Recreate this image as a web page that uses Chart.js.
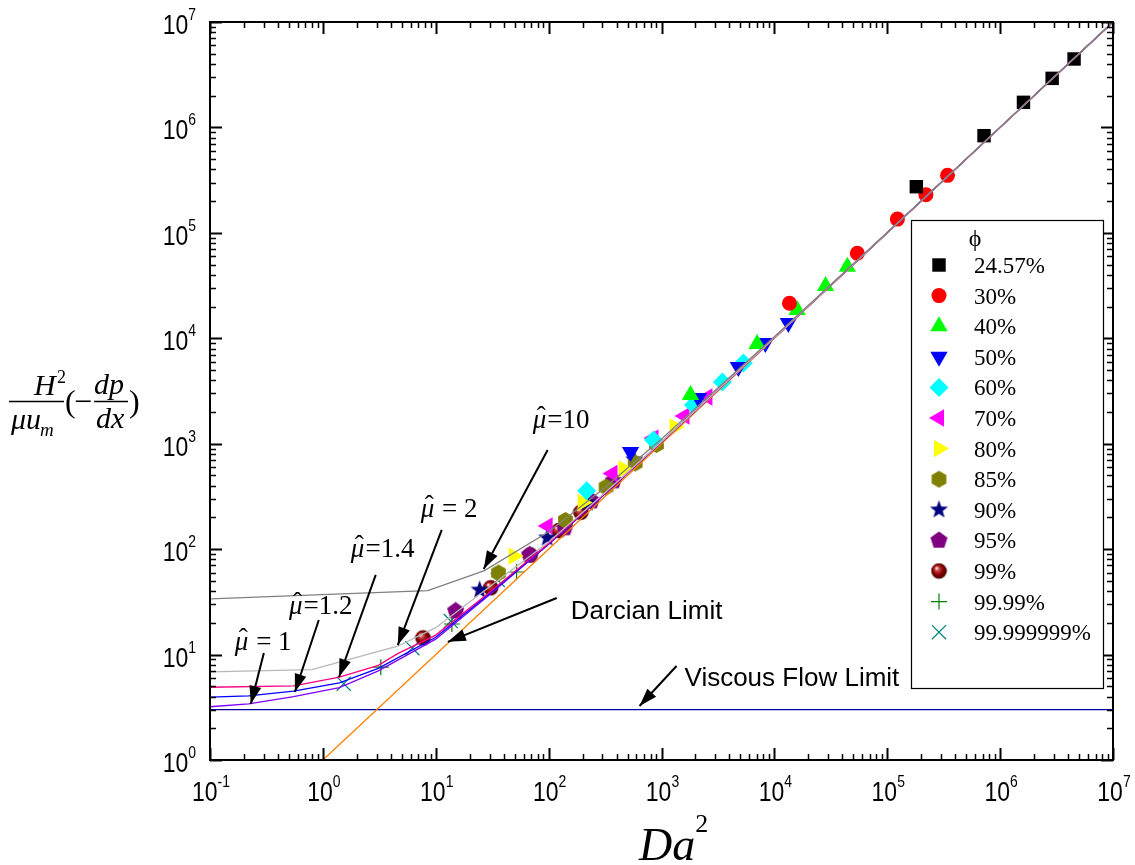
<!DOCTYPE html>
<html>
<head>
<meta charset="utf-8">
<script src="https://cdn.jsdelivr.net/npm/chart.js@4.4.1/dist/chart.umd.min.js"></script>
<style>
  html, body { margin: 0; padding: 0; background: #fff; }
  canvas { display: block; }
</style>
</head>
<body>
<canvas id="grafico" width="1135" height="865"></canvas>
<script>
// eixos (log-log)
const xTicks = [0.1, 1, 10, 100, 1e3, 1e4, 1e5, 1e6, 1e7]
const xExpoentes = ['-1', '0', '1', '2', '3', '4', '5', '6', '7']
const yTicks = [1, 10, 100, 1e3, 1e4, 1e5, 1e6, 1e7]
const yExpoentes = ['0', '1', '2', '3', '4', '5', '6', '7']

// curvas teoricas (mu chapeu)
const mu1X = [0.1, 0.22, 0.55, 1.4, 3.1, 10, 30, 100, 300, 1000, 1e4, 1e5, 1e6, 1e7]
const mu1Y = [3.2, 3.4, 4.0, 4.85, 7.0, 14, 37, 111, 318, 1033, 10100, 100300, 1001000, 1e7]
const mu12X = [0.1, 0.22, 0.55, 1.4, 3.1, 10, 30, 100, 300, 1000, 1e4, 1e5, 1e6, 1e7]
const mu12Y = [3.95, 4.05, 4.5, 5.4, 7.4, 14.6, 38, 112, 320, 1035, 10110, 100350, 1001100, 1e7]
const mu14X = [0.1, 0.55, 1.4, 3.1, 4.6, 10, 30, 100, 300, 1000, 1e4, 1e5, 1e6, 1e7]
const mu14Y = [4.9, 5.05, 6.1, 7.9, 10.2, 15.3, 39, 113, 322, 1038, 10120, 100370, 1001200, 1e7]
const mu2X = [0.1, 0.8, 4.6, 10, 30, 100, 300, 1000, 1e4, 1e5, 1e6, 1e7]
const mu2Y = [6.85, 7.2, 12, 18, 44, 117, 327, 1046, 10140, 100450, 1001400, 1e7]
const mu10X = [0.1, 8.5, 27, 100, 300, 1000, 1e4, 1e5, 1e6, 1e7]
const mu10Y = [33.7, 40.5, 62.5, 146, 367, 1110, 10320, 101000, 1003200, 1e7]
const darcyX = [1, 1e7]
const darcyY = [1, 1e7]
const viscosoX = [0.1, 1e7]
const viscosoY = [3, 3]

// pontos medidos, por porosidade
const phiLabels = ['24.57%', '30%', '40%', '50%', '60%', '70%', '80%', '85%', '90%', '95%', '99%', '99.99%', '99.999999%']
const phi2457X = [1.81e5, 7.2e5, 1.61e6, 2.89e6, 4.52e6]
const phi2457Y = [2.74e5, 8.35e5, 1.73e6, 2.92e6, 4.46e6]
const phi30X = [1.36e4, 5.43e4, 1.23e5, 2.2e5, 3.42e5]
const phi30Y = [2.15e4, 6.4e4, 1.35e5, 2.3e5, 3.51e5]
const phi40X = [1807, 7030, 1.59e4, 2.84e4, 4.43e4]
const phi40Y = [2897, 8830, 1.85e4, 3.13e4, 4.78e4]
const phi50X = [532, 2125, 4800, 8320, 1.33e4]
const phi50Y = [834, 2715, 5340, 9020, 1.40e4]
const phi60X = [217, 849, 1919, 3467, 5320]
const phi60Y = [358, 1084, 2330, 3850, 5830]
const phi70X = [98, 368, 849, 1599, 2553]
const phi70Y = [166, 522, 1132, 1832, 2773]
const phi80X = [49, 200, 461, 1303]
const phi80Y = [86, 277, 576, 1440]
const phi85X = [36, 141, 323, 585, 903]
const phi85Y = [59.4, 187, 388, 656, 982]
const phi90X = [24.5, 97, 220, 573]
const phi90Y = [41, 128, 274, 705]
const phi95X = [15, 68, 139, 240, 376]
const phi95Y = [25.9, 88, 159, 286, 443]
const phi99X = [7.7, 30.7, 68.6, 123, 193]
const phi99Y = [14.4, 43, 88, 150, 224]
const phi9999X = [3.26, 13.9, 52]
const phi9999Y = [7.6, 19.5, 60.7]
const phi99999999X = [1.53, 6.2, 13.6, 35.4]
const phi99999999Y = [5.3, 11.5, 20.8, 51]

const seriesX = [phi2457X, phi30X, phi40X, phi50X, phi60X, phi70X, phi80X, phi85X, phi90X, phi95X, phi99X, phi9999X, phi99999999X]
const seriesY = [phi2457Y, phi30Y, phi40Y, phi50Y, phi60Y, phi70Y, phi80Y, phi85Y, phi90Y, phi95Y, phi99Y, phi9999Y, phi99999999Y]

function pontos(xs, ys) {
  return xs.map((x, i) => ({ x: x, y: ys[i] }))
}

// marcadores desenhados a mao
function poligono(cor, n, r, r2, tam) {
  const c = document.createElement('canvas')
  c.width = tam; c.height = tam
  const g = c.getContext('2d')
  g.fillStyle = cor
  g.beginPath()
  const passos = r2 ? n * 2 : n
  for (let i = 0; i < passos; i++) {
    const raio = (r2 && i % 2) ? r2 : r
    const a = -Math.PI / 2 + i * 2 * Math.PI / passos
    const px = tam / 2 + raio * Math.cos(a), py = tam / 2 + raio * Math.sin(a)
    if (i === 0) g.moveTo(px, py); else g.lineTo(px, py)
  }
  g.closePath()
  g.fill()
  return c
}

function esfera() {
  const c = document.createElement('canvas')
  c.width = 17; c.height = 17
  const g = c.getContext('2d')
  const grad = g.createRadialGradient(6, 5.5, 0.5, 8.5, 8.5, 8)
  grad.addColorStop(0, '#ffe8e8')
  grad.addColorStop(0.25, '#c04040')
  grad.addColorStop(0.6, '#8c0000')
  grad.addColorStop(1, '#3a0000')
  g.fillStyle = grad
  g.beginPath()
  g.arc(8.5, 8.5, 7.8, 0, Math.PI * 2)
  g.fill()
  return c
}

const hexagono = poligono('#808000', 6, 8.5, 0, 19)
const estrela = poligono('#000080', 5, 9.5, 3.9, 21)
const pentagono = poligono('#800080', 5, 9, 0, 19)
const bola = esfera()

const estilos = [
  { pointStyle: 'rect', radius: 9.5, rotation: 0, cor: '#000000' },
  { pointStyle: 'circle', radius: 7.5, rotation: 0, cor: '#ff0000' },
  { pointStyle: 'triangle', radius: 10, rotation: 0, cor: '#00ff00' },
  { pointStyle: 'triangle', radius: 10, rotation: 180, cor: '#0000ff' },
  { pointStyle: 'rectRot', radius: 9.5, rotation: 0, cor: '#00ffff' },
  { pointStyle: 'triangle', radius: 10, rotation: -90, cor: '#ff00ff' },
  { pointStyle: 'triangle', radius: 10, rotation: 90, cor: '#ffff00' },
  { pointStyle: hexagono, radius: 9, rotation: 0, cor: '#808000' },
  { pointStyle: estrela, radius: 9, rotation: 0, cor: '#000080' },
  { pointStyle: pentagono, radius: 9, rotation: 0, cor: '#800080' },
  { pointStyle: bola, radius: 8, rotation: 0, cor: '#800000' },
  { pointStyle: 'cross', radius: 8, rotation: 0, cor: '#008000', linha: 1.2 },
  { pointStyle: 'crossRot', radius: 10, rotation: 0, cor: '#008080', linha: 1.2 }
]

const curvas = [
  { xs: mu10X, ys: mu10Y, cor: '#808080' },
  { xs: mu2X, ys: mu2Y, cor: '#b8b8b8' },
  { xs: mu14X, ys: mu14Y, cor: '#ff0080' },
  { xs: mu12X, ys: mu12Y, cor: '#0000ff' },
  { xs: mu1X, ys: mu1Y, cor: '#8000ff' },
  { xs: darcyX, ys: darcyY, cor: '#ff8000' },
  { xs: viscosoX, ys: viscosoY, cor: '#0000a0' }
]

const datasets = []
curvas.forEach(c => {
  datasets.push({
    data: pontos(c.xs, c.ys),
    showLine: true,
    borderColor: c.cor,
    borderWidth: 1.3,
    pointRadius: 0,
    tension: 0,
    order: 0
  })
})
estilos.forEach((e, i) => {
  datasets.push({
    label: phiLabels[i],
    data: pontos(seriesX[i], seriesY[i]),
    pointStyle: e.pointStyle,
    pointRadius: e.radius,
    pointRotation: e.rotation,
    backgroundColor: e.cor,
    borderColor: e.cor,
    pointBorderWidth: e.linha || 0,
    order: 1
  })
})

// anotacoes (coordenadas nos dados)
const notasMu = [
  { resto: ' = 1', x: 0.166, y: 11.0 },
  { resto: '=1.2', x: 0.50, y: 24.3 },
  { resto: '=1.4', x: 1.77, y: 84.2 },
  { resto: ' = 2', x: 7.37, y: 202 },
  { resto: '=10', x: 72.2, y: 1409 }
]
const setas = [
  [0.30, 10.35, 0.23, 3.40],
  [0.92, 21.3, 0.565, 4.42],
  [2.94, 56.9, 1.39, 6.13],
  [11.3, 152, 4.61, 12.3],
  [98, 871, 26.6, 64.8],
  [118, 34.4, 12.8, 13.2],
  [1358, 7.8, 639, 3.25]
]
const notasTexto = [
  { texto: 'Darcian Limit', x: 157, y: 21.7 },
  { texto: 'Viscous Flow Limit', x: 1599, y: 5.03 }
]

function seta(ctx, x1, y1, x2, y2) {
  ctx.beginPath()
  ctx.moveTo(x1, y1)
  ctx.lineTo(x2, y2)
  ctx.stroke()
  const ang = Math.atan2(y2 - y1, x2 - x1), len = 18, w = 6
  ctx.beginPath()
  ctx.moveTo(x2, y2)
  ctx.lineTo(x2 - len * Math.cos(ang) + w * Math.sin(ang), y2 - len * Math.sin(ang) - w * Math.cos(ang))
  ctx.lineTo(x2 - len * Math.cos(ang) - w * Math.sin(ang), y2 - len * Math.sin(ang) + w * Math.cos(ang))
  ctx.closePath()
  ctx.fill()
}

// texto estreito, como o Arial comprimido do original
function textoEstreito(ctx, txt, x, y, escala) {
  ctx.save()
  ctx.translate(x, y)
  ctx.scale(escala, 1)
  ctx.fillText(txt, 0, 0)
  ctx.restore()
}

const moldura = {
  id: 'moldura',
  afterDraw(chart) {
    const ctx = chart.ctx
    const a = chart.chartArea
    const sx = chart.scales.x, sy = chart.scales.y
    ctx.save()
    ctx.fillStyle = '#000'
    ctx.strokeStyle = '#000'

    // ticks para dentro nos quatro lados
    xTicks.forEach(v => {
      for (let m = 1; m <= 9; m++) {
        const val = v * m
        if (val > sx.max * 1.0001) break
        const px = Math.round(sx.getPixelForValue(val)) + 0.5
        const t = m === 1 ? 12 : 6
        ctx.lineWidth = m === 1 ? 2 : 1.5
        ctx.beginPath()
        ctx.moveTo(px, a.bottom); ctx.lineTo(px, a.bottom - t)
        ctx.moveTo(px, a.top); ctx.lineTo(px, a.top + t)
        ctx.stroke()
      }
    })
    yTicks.forEach(v => {
      for (let m = 1; m <= 9; m++) {
        const val = v * m
        if (val > sy.max * 1.0001) break
        const py = Math.round(sy.getPixelForValue(val)) + 0.5
        const t = m === 1 ? 12 : 6
        ctx.lineWidth = m === 1 ? 2 : 1.5
        ctx.beginPath()
        ctx.moveTo(a.left, py); ctx.lineTo(a.left + t, py)
        ctx.moveTo(a.right, py); ctx.lineTo(a.right - t, py)
        ctx.stroke()
      }
    })
    ctx.lineWidth = 2
    ctx.strokeRect(a.left, a.top, a.right - a.left, a.bottom - a.top)

    // rotulos 10^n
    const k = 0.82
    const fBase = '28px "Liberation Sans", Arial, sans-serif'
    const fExp = '17px "Liberation Sans", Arial, sans-serif'
    ctx.textBaseline = 'alphabetic'
    ctx.textAlign = 'left'
    xTicks.forEach((v, i) => {
      const px = sx.getPixelForValue(v)
      ctx.font = fBase
      const wb = ctx.measureText('10').width * k
      ctx.font = fExp
      const we = ctx.measureText(xExpoentes[i]).width * k
      const x0 = px - (wb + we) / 2 + 1
      ctx.font = fBase
      textoEstreito(ctx, '10', x0, a.bottom + 41, k)
      ctx.font = fExp
      textoEstreito(ctx, xExpoentes[i], x0 + wb, a.bottom + 27, k)
    })
    yTicks.forEach((v, i) => {
      const py = sy.getPixelForValue(v)
      ctx.font = fBase
      const wb = ctx.measureText('10').width * k
      ctx.font = fExp
      const we = ctx.measureText(yExpoentes[i]).width * k
      const x0 = a.left - 14 - we - wb
      ctx.font = fBase
      textoEstreito(ctx, '10', x0, py + 12, k)
      ctx.font = fExp
      textoEstreito(ctx, yExpoentes[i], x0 + wb, py - 2, k)
    })

    // titulo do eixo x: Da^2
    ctx.font = 'italic 46px "Liberation Serif", "Times New Roman", serif'
    ctx.fillText('Da', 639, 860)
    const wDa = ctx.measureText('Da').width
    ctx.font = '26px "Liberation Serif", "Times New Roman", serif'
    ctx.fillText('2', 639 + wDa, 832)

    // titulo do eixo y: H^2/(mu u_m) (-dp/dx)
    const serifI = sz => 'italic ' + sz + 'px "Liberation Serif", "Times New Roman", serif'
    const serif = sz => sz + 'px "Liberation Serif", "Times New Roman", serif'
    ctx.font = serifI(30)
    ctx.fillText('H', 34, 395)
    ctx.font = serif(18)
    ctx.fillText('2', 57, 383)
    ctx.font = serifI(30)
    ctx.fillText('μu', 11, 429)
    const wmu = ctx.measureText('μu').width
    ctx.font = serifI(19)
    ctx.fillText('m', 11 + wmu - 1, 436)
    ctx.lineWidth = 1.3
    ctx.beginPath()
    ctx.moveTo(9, 401.5); ctx.lineTo(64, 401.5)
    ctx.moveTo(94, 401.5); ctx.lineTo(128, 401.5)
    ctx.stroke()
    ctx.font = serif(32)
    ctx.fillText('(', 65, 412)
    ctx.fillText('−', 74, 412)
    ctx.fillText(')', 129, 412)
    ctx.font = serifI(30)
    ctx.fillText('dp', 94, 394)
    ctx.fillText('dx', 96, 428)

    // setas
    ctx.lineWidth = 2
    setas.forEach(s => {
      seta(ctx, sx.getPixelForValue(s[0]), sy.getPixelForValue(s[1]), sx.getPixelForValue(s[2]), sy.getPixelForValue(s[3]))
    })

    // mu chapeu = ...
    notasMu.forEach(n => {
      const px = sx.getPixelForValue(n.x), py = sy.getPixelForValue(n.y)
      ctx.font = serifI(27)
      ctx.fillText('μ', px, py)
      const wm = ctx.measureText('μ').width
      ctx.font = serif(27)
      ctx.fillText('ˆ', px + 4, py - 3)
      ctx.fillText(n.resto, px + wm + 1, py)
    })
    ctx.font = '26px "Liberation Sans", Arial, sans-serif'
    notasTexto.forEach(n => {
      ctx.fillText(n.texto, sx.getPixelForValue(n.x), sy.getPixelForValue(n.y))
    })

    // legenda
    const lx = a.right - 202, ly = a.top + 198, lw = 192, lh = 468
    ctx.fillStyle = '#fff'
    ctx.fillRect(lx, ly, lw, lh)
    ctx.strokeStyle = '#000'
    ctx.lineWidth = 1.2
    ctx.strokeRect(lx + 0.5, ly + 0.5, lw, lh)
    ctx.fillStyle = '#000'
    ctx.font = serif(24)
    ctx.textAlign = 'center'
    ctx.fillText('ϕ', lx + 64, ly + 26)
    ctx.textAlign = 'left'
    estilos.forEach((e, i) => {
      const my = ly + 45 + i * 30.6
      const mx = lx + 28
      ctx.fillStyle = e.cor
      ctx.strokeStyle = e.cor
      ctx.lineWidth = e.linha || 1
      Chart.helpers.drawPoint(ctx, { pointStyle: e.pointStyle, radius: e.radius, rotation: e.rotation, borderWidth: e.linha || 0 }, mx, my)
      ctx.fillStyle = '#000'
      ctx.font = serif(23)
      ctx.fillText(phiLabels[i], lx + 63, my + 8)
    })
    ctx.restore()
  }
}

const grafico = new Chart(document.getElementById('grafico'), {
  type: 'scatter',
  data: { datasets: datasets },
  options: {
    responsive: false,
    animation: false,
    layout: { padding: { left: 210, right: 22, top: 22, bottom: 105 } },
    scales: {
      x: { type: 'logarithmic', min: 0.1, max: 1e7, display: false },
      y: { type: 'logarithmic', min: 1, max: 1e7, display: false }
    },
    plugins: {
      legend: { display: false },
      tooltip: { enabled: false }
    }
  },
  plugins: [moldura]
})
</script>
</body>
</html>
